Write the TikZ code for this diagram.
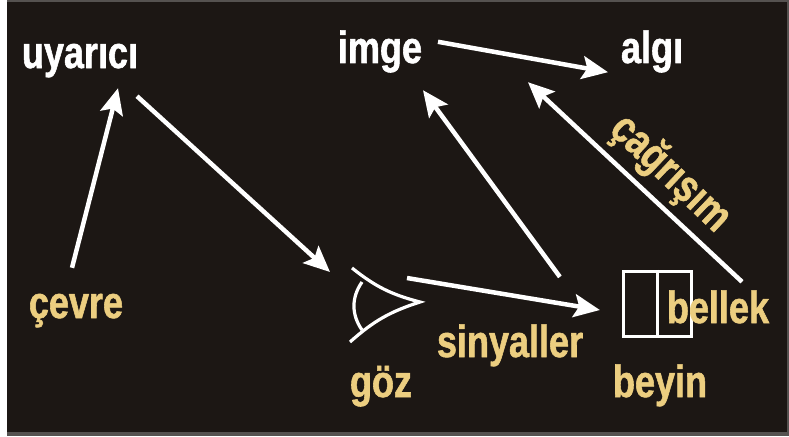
\documentclass[tikz,border=0pt]{standalone}
\usepackage{fontspec}
\setmainfont{Liberation Sans}[FakeStretch=0.8, BoldFeatures={FakeBold=1.2}]
\usetikzlibrary{arrows.meta,positioning,calc}
\definecolor{bgdark}{RGB}{28,23,20}
\definecolor{edgegray}{RGB}{85,82,80}
\definecolor{lblyellow}{RGB}{236,206,128}
\tikzset{
  >=Stealth,
  word/.style={font=\fontsize{45}{50}\selectfont\bfseries, inner sep=0pt, text height=34pt, text depth=10pt, anchor=base},
  wordw/.style={word, text=white},
  wordy/.style={word, text=lblyellow},
  arr/.style={-{Stealth[length=26pt, width=23pt, inset=5pt]}, draw=white, line width=4.5pt},
  eyeline/.style={draw=white, line width=3.2pt},
  brain/.style={rectangle, draw=white, line width=3.2pt, minimum width=68pt, minimum height=65pt, inner sep=0pt}
}

\begin{document}
\begin{tikzpicture}[x=1pt, y=-1pt]
    % Background
    \useasboundingbox (0,0) rectangle (789,436);
    \fill[edgegray] (0,0) rectangle (789,436);
    \fill[bgdark] (7,2) rectangle (787,432);
    \fill[white] (0,0) rectangle (7,436);

    % Brain box
    \node[brain] (beyinbox) at (657.5,304) {};
    \draw[white, line width=3.2pt] (beyinbox.north) -- (beyinbox.south);

    % Eye
    \coordinate (eye) at (420,302);
    \draw[eyeline] ($(eye)+(-68,-34)$) to[bend right=12] (eye) to[bend right=12] ($(eye)+(-70,40)$);
    \draw[eyeline] ($(eye)+(-58,-20)$) to[bend right=35] ($(eye)+(-58,28)$);

    % Words
    \node[wordw] (uyarici) at (80,68) {uyarıcı};
    \node[wordw] (imge) at (380,63) {imge};
    \node[wordw] (algi) at (652,63) {algı};
    \node[wordy] (cevre) at (76,318) {çevre};
    \node[wordy] (goz) at (381,397) {göz};
    \node[wordy] (sinyaller) at (510,357) {sinyaller};
    \node[wordy] (beyin) at (660,397) {beyin};
    \node[wordy] (bellek) at (718,323) {bellek};
    \node[wordy, anchor=center, rotate=-43.5] (cagrisim) at (670,174) {çağrışım};

    % Arrows
    \draw[arr] ($(cevre.north)+(-4,-16)$) -- ($(uyarici.south)+(38,10)$);
    \draw[arr] ($(uyarici.south)+(57,18)$) -- ($(eye)+(-90,-30)$);
    \draw[arr] ($(eye)+(-13,-24)$) -- ($(beyinbox.west)+(-22,6)$);
    \draw[arr] ($(beyinbox.north west)+(-62,7)$) -- ($(imge.south)+(43,17)$);
    \draw[arr] ($(bellek.north)+(24,-7)$) -- ($(algi.south)+(-124,9)$);
    \draw[arr] ($(imge.north)+(58,13)$) -- ($(algi.south)+(-44,-1)$);
\end{tikzpicture}
\end{document}
